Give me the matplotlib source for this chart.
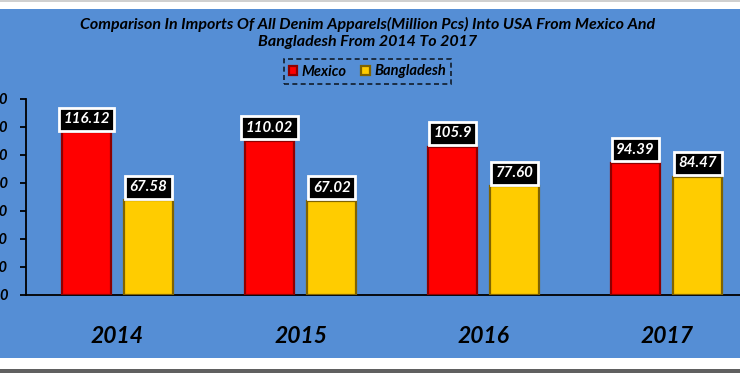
import numpy as np
import matplotlib
matplotlib.use("Agg")
import matplotlib.pyplot as plt
from matplotlib.patches import Rectangle

# ---------------------------------------------------------------------------
# Data
# ---------------------------------------------------------------------------
years = ["2014", "2015", "2016", "2017"]
mexico = [116.12, 110.02, 105.9, 94.39]
bangladesh = [67.58, 67.02, 77.60, 84.47]
mexico_labels = ["116.12", "110.02", "105.9", "94.39"]
bangladesh_labels = ["67.58", "67.02", "77.60", "84.47"]
y_ticks = [0, 20, 40, 60, 80, 100, 120, 140]

title = ("Comparison In Imports Of All Denim Apparels(Million Pcs) Into USA From Mexico And\n"
         "Bangladesh From 2014 To 2017")

FONT = ["Lato", "DejaVu Sans"]
BG = "#558ED5"

plt.rcParams["font.family"] = FONT

fig = plt.figure(figsize=(7.4, 3.73), dpi=100)
fig.patch.set_facecolor("white")

# blue chart panel + frame lines of the screenshot
for rect, col in (((0, 15 / 373, 1, 349 / 373), BG),
                  ((0, 371 / 373, 1, 2 / 373), "#d0d0d0"),
                  ((0, 0, 1, 4 / 373), "#606060")):
    fig.patches.append(Rectangle(rect[:2], rect[2], rect[3], transform=fig.transFigure,
                                 facecolor=col, edgecolor="none", zorder=-5))

ax = fig.add_axes([26 / 740, 78 / 373, 714 / 740, 196 / 373])
ax.set_facecolor("none")

x = np.arange(len(years))
w = 0.268
off = 0.17

bars_m = ax.bar(x - off, mexico, w, color="#FF0000", edgecolor="#8E0000", linewidth=1.6, zorder=3)
bars_b = ax.bar(x + off, bangladesh, w, color="#FFCC00", edgecolor="#806300", linewidth=1.6, zorder=3)

box = dict(boxstyle="square,pad=0.3", facecolor="black", edgecolor="white", linewidth=2)
for bars, labels in ((bars_m, mexico_labels), (bars_b, bangladesh_labels)):
    for b, lab in zip(bars, labels):
        ax.annotate(lab, (b.get_x() + b.get_width() / 2, b.get_height()),
                    xytext=(0, 4.5), textcoords="offset points", ha="center", va="bottom",
                    color="white", fontsize=10.8, fontweight="bold", fontstyle="italic",
                    bbox=box, zorder=5)

ax.set_xlim(-0.5, 3.40)
ax.set_ylim(0, 140)
ax.set_yticks(y_ticks)
ax.set_xticks(x)
ax.set_xticklabels(years, fontsize=16.5, fontweight="bold", fontstyle="italic")
for lab in ax.get_yticklabels():
    lab.set_fontweight("bold")
    lab.set_fontstyle("italic")
    lab.set_fontsize(10.5)

ax.tick_params(axis="y", direction="out", length=4.5, width=1.3, pad=8.5, colors="black")
ax.tick_params(axis="x", length=0, pad=22)

for s in ("top", "right"):
    ax.spines[s].set_visible(False)
ax.spines["left"].set_linewidth(1.3)
ax.spines["bottom"].set_linewidth(1.3)

fig.text(0.497, 1 - 17 / 373, title, ha="center", va="top", fontsize=11.5,
         fontweight="bold", fontstyle="italic", linespacing=1.25)

leg = fig.legend([bars_m, bars_b], ["Mexico", "Bangladesh"], loc="center",
                 bbox_to_anchor=(367.5 / 740, 1 - 71.5 / 373), ncol=2, frameon=True,
                 fancybox=False, handlelength=0.6, handleheight=0.6, handletextpad=0.3,
                 columnspacing=1.0, borderpad=0.35,
                 prop=dict(family=FONT, size=10.5, weight="bold", style="italic"))
frame = leg.get_frame()
frame.set_facecolor("none")
frame.set_edgecolor("black")
frame.set_linestyle((0, (3, 2)))
frame.set_linewidth(1.2)

fig.savefig("out.png", dpi=100, facecolor=fig.get_facecolor())
